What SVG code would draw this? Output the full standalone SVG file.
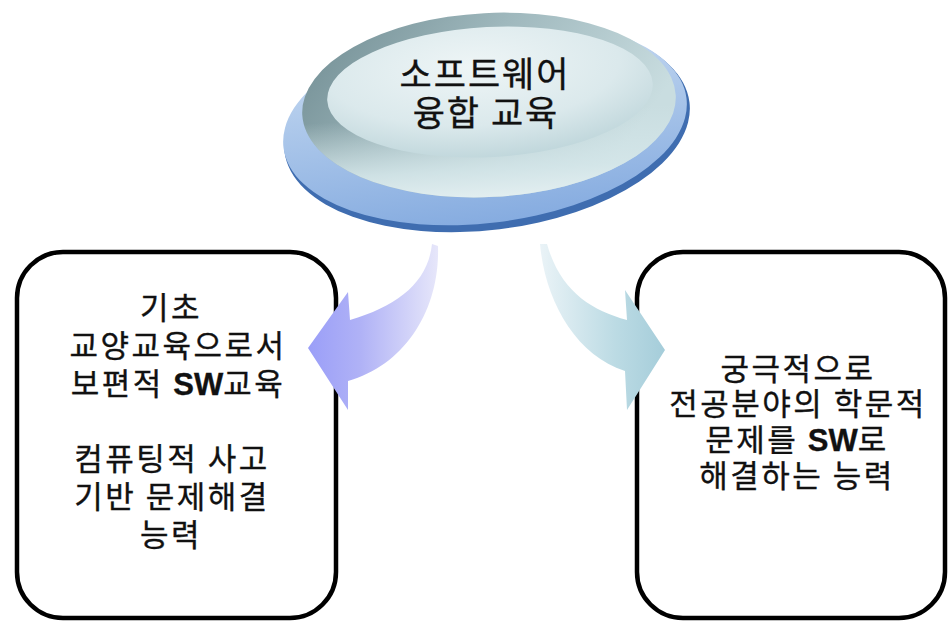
<svg xmlns="http://www.w3.org/2000/svg" width="948" height="625" viewBox="0 0 948 625">
<defs>
<linearGradient id="baseG" x1="0" y1="0" x2="0" y2="1">
<stop offset="0" stop-color="#c9dcf2"/>
<stop offset="1" stop-color="#86ace0"/>
</linearGradient>
<linearGradient id="lensG" x1="0" y1="0" x2="1" y2="0.4">
<stop offset="0" stop-color="#6f8b91"/>
<stop offset="0.5" stop-color="#9fb8bd"/>
<stop offset="1" stop-color="#c9dde0"/>
</linearGradient>
<linearGradient id="lensLow" x1="0" y1="0" x2="0" y2="1">
<stop offset="0.55" stop-color="#d4e6e9" stop-opacity="0"/>
<stop offset="0.85" stop-color="#d4e6e9" stop-opacity="0.9"/>
<stop offset="1" stop-color="#e2eef0" stop-opacity="1"/>
</linearGradient>
<radialGradient id="innerG" cx="0.45" cy="0.3" r="0.75">
<stop offset="0" stop-color="#eef5f6"/>
<stop offset="0.6" stop-color="#dbe9ec"/>
<stop offset="1" stop-color="#bcd4d9"/>
</radialGradient>
<linearGradient id="leftArrowG" gradientUnits="userSpaceOnUse" x1="308" y1="0" x2="440" y2="0">
<stop offset="0" stop-color="#9a9ef8"/>
<stop offset="0.4" stop-color="#b0b2f6"/>
<stop offset="1" stop-color="#e8e8fa"/>
</linearGradient>
<linearGradient id="rightArrowG" gradientUnits="userSpaceOnUse" x1="540" y1="0" x2="665" y2="0">
<stop offset="0" stop-color="#eaf3f7"/>
<stop offset="0.6" stop-color="#bcdbe4"/>
<stop offset="1" stop-color="#a5cdda"/>
</linearGradient>
</defs>
<style>
.box{fill:#ffffff;stroke:#000000;stroke-width:4.5}
.t{font-family:"Noto Sans CJK KR","Noto Sans",sans-serif;font-size:31px;letter-spacing:2.5px;fill:#111111;stroke:#111111;stroke-width:0.35;text-anchor:middle}
.tt{font-family:"Noto Sans CJK KR","Noto Sans",sans-serif;font-size:35px;letter-spacing:2px;fill:#111111;stroke:#111111;stroke-width:0.35;text-anchor:middle}
.sw{font-family:"Liberation Sans",Arial,sans-serif;font-weight:bold;letter-spacing:0}
</style>
<rect width="948" height="625" fill="#ffffff"/>

<g id="node-left">
<rect class="box" x="17" y="252" width="319" height="366" rx="46"/>
<text class="t"><tspan x="171" y="319">기초</tspan><tspan x="178" y="357">교양교육으로서</tspan><tspan x="178" y="395">보편적 <tspan class="sw">SW</tspan>교육</tspan><tspan x="172" y="470">컴퓨팅적 사고</tspan><tspan x="172" y="508">기반 문제해결</tspan><tspan x="171" y="546">능력</tspan></text>
</g>

<g id="node-right">
<rect class="box" x="637" y="252" width="308" height="366" rx="46"/>
<text class="t"><tspan x="798" y="380">궁극적으로</tspan><tspan x="798" y="415">전공분야의 학문적</tspan><tspan x="797" y="451">문제를 <tspan class="sw">SW</tspan>로</tspan><tspan x="797" y="487">해결하는 능력</tspan></text>
</g>

<g id="node-top">
<ellipse cx="487" cy="127" rx="204" ry="103" transform="rotate(-7 487 127)" fill="#3f6db0"/>
<ellipse cx="485" cy="123" rx="203" ry="100" transform="rotate(-7 485 123)" fill="url(#baseG)"/>
<ellipse cx="489" cy="105" rx="187" ry="92" transform="rotate(-3 489 105)" fill="url(#lensG)"/>
<ellipse cx="489" cy="105" rx="187" ry="92" transform="rotate(-3 489 105)" fill="url(#lensLow)"/>
<ellipse cx="490" cy="92" rx="163" ry="65" transform="rotate(-3 490 92)" fill="url(#innerG)"/>
<text class="tt"><tspan x="485" y="87">소프트웨어</tspan><tspan x="486" y="126">융합 교육</tspan></text>
</g>

<g id="connectors">
<path d="M432,244 C428,282 398,306 350,320 L348,292 L308,348 L348,410 L348,381 C405,365 440,310 438,246 Z" fill="url(#leftArrowG)"/>
<path d="M540,244 C545,300 575,355 625,371 L627,410 L665,350 L625,290 L627,320 C590,310 560,290 547,244 Z" fill="url(#rightArrowG)"/>
</g>
</svg>
